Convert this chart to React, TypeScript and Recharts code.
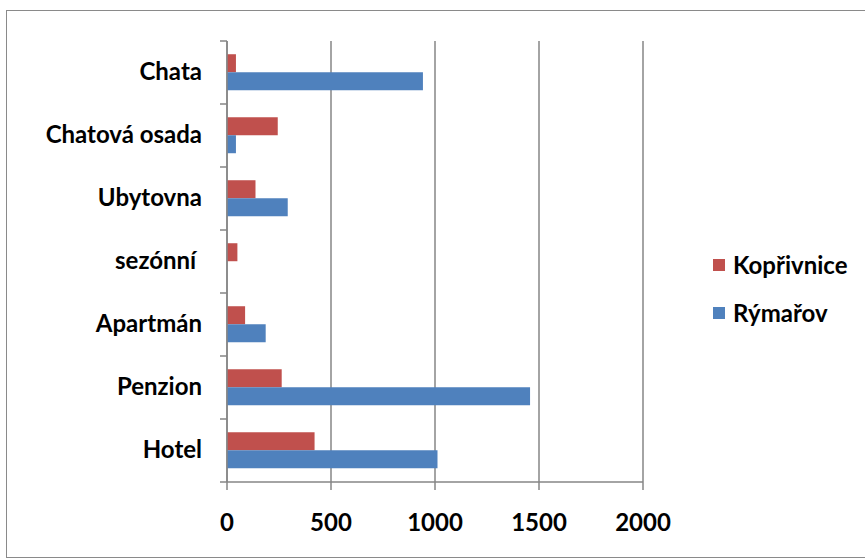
import React from "react";
import { BarChart, Bar, XAxis, YAxis, CartesianGrid } from "recharts";

const categories = ["Chata", "Chatová osada", "Ubytovna", "sezónní ", "Apartmán", "Penzion", "Hotel"];
const koprivnice = [43, 244, 137, 50, 87, 263, 421];
const rymarov = [942, 43, 292, 0, 186, 1457, 1012];
const xTicks = [0, 500, 1000, 1500, 2000];
const seriesNames = ["Kopřivnice", "Rýmařov"];
const seriesColors = ["#C0504D", "#4F81BD"];

const data = categories.map((c, i) => ({ name: c, k: koprivnice[i], r: rymarov[i] }));

const FONT = "Lato, 'Open Sans', sans-serif";
const FS = 24;
const TOP = 41;
const BOTTOM = 482;
const AXIS_X = 227;
const BAND = (BOTTOM - TOP) / categories.length;

const YTick = (props: any) => {
  const { y, payload, index } = props;
  return (
    <g>
      <line x1={AXIS_X - 7} x2={AXIS_X} y1={y - BAND / 2} y2={y - BAND / 2} stroke="#868686" strokeWidth={1.5} />
      {index === categories.length - 1 && (
        <line x1={AXIS_X - 7} x2={AXIS_X} y1={y + BAND / 2} y2={y + BAND / 2} stroke="#868686" strokeWidth={1.5} />
      )}
      <text
        x={202}
        y={y}
        dy="0.33em"
        textAnchor="end"
        fontFamily={FONT}
        fontWeight={700}
        fontSize={FS}
        fill="#000"
        style={{ whiteSpace: "pre" }}
      >
        {payload.value}
      </text>
    </g>
  );
};

const XTick = (props: any) => {
  const { x, payload } = props;
  return (
    <text x={x} y={522} dy="0.36em" textAnchor="middle" fontFamily={FONT} fontWeight={700} fontSize={FS} fill="#000">
      {payload.value}
    </text>
  );
};

export default function App() {
  return (
    <div style={{ position: "absolute", left: 0, top: 0, width: 865, height: 559, background: "#fff", overflow: "hidden" }}>
      <div style={{ position: "absolute", left: 6, top: 10, width: 900, height: 546, border: "1.5px solid #8a8a8a" }} />
      <div style={{ position: "absolute", left: 0, top: 0 }}>
        <BarChart
          width={865}
          height={559}
          data={data}
          layout="vertical"
          margin={{ top: TOP, right: 222, bottom: 0, left: 0 }}
          barCategoryGap="21%"
          barGap={0}
        >
          <CartesianGrid horizontal={false} stroke="#868686" strokeWidth={1.5} />
          <XAxis
            type="number"
            domain={[0, 2000]}
            ticks={xTicks}
            height={559 - BOTTOM}
            axisLine={{ stroke: "#868686", strokeWidth: 1.5 }}
            tickLine={{ stroke: "#868686", strokeWidth: 1.5 }}
            tickSize={8}
            tick={<XTick />}
            interval={0}
          />
          <YAxis
            type="category"
            dataKey="name"
            width={AXIS_X}
            axisLine={{ stroke: "#868686", strokeWidth: 1.5 }}
            tickLine={false}
            tick={<YTick />}
            interval={0}
          />
          <Bar dataKey="k" name={seriesNames[0]} fill={seriesColors[0]} isAnimationActive={false} />
          <Bar dataKey="r" name={seriesNames[1]} fill={seriesColors[1]} isAnimationActive={false} />
        </BarChart>
      </div>
      <div style={{ position: "absolute", left: 713, top: 249, fontFamily: FONT, fontWeight: 700, fontSize: FS, color: "#000" }}>
        {seriesNames.map((n, i) => (
          <div key={n} style={{ display: "flex", alignItems: "center", height: 32, marginBottom: 16 }}>
            <div style={{ width: 12, height: 12, background: seriesColors[i], marginRight: 8 }} />
            <span style={{ lineHeight: "32px" }}>{n}</span>
          </div>
        ))}
      </div>
    </div>
  );
}
